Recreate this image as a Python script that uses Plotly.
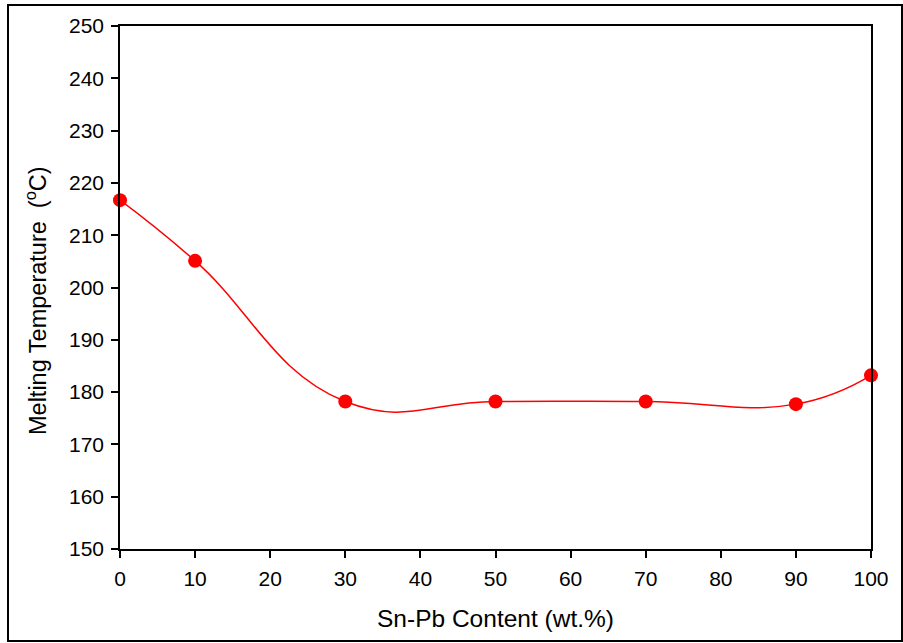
import plotly.graph_objects as go

content = [0, 10, 30, 50, 70, 90, 100]
melting_temp = [216.7, 205.1, 178.2, 178.2, 178.2, 177.7, 183.2]

W, H = 903, 643
L, R, T, B = 120, 32, 26, 94
pw, ph = W - L - R, H - T - B

def px(x):
    return (x - L) / pw

def py(y):
    return (H - B - y) / ph

fig = go.Figure()
fig.add_trace(go.Scatter(
    x=content, y=melting_temp, mode="lines+markers",
    line=dict(color="#ff0000", width=1.5, shape="spline", smoothing=1.3),
    marker=dict(color="#ff0000", size=14),
    showlegend=False, cliponaxis=False,
))

font = "Liberation Sans, Arial, sans-serif"
fig.update_layout(
    width=W, height=H,
    margin=dict(l=L, r=R, t=T, b=B),
    paper_bgcolor="white", plot_bgcolor="white",
    font=dict(family=font, color="black", size=21),
    xaxis=dict(
        range=[0, 100], tickvals=list(range(0, 101, 10)),
        ticks="outside", ticklen=7, tickwidth=1.5, tickcolor="black",
        showline=True, linecolor="black", linewidth=1.5, mirror=True,
        showgrid=False, zeroline=False, ticklabelstandoff=3,
        tickfont=dict(size=21),
        title=dict(text="Sn-Pb Content (wt.%)", font=dict(size=24.5), standoff=21),
    ),
    yaxis=dict(
        range=[150, 250], tickvals=list(range(150, 251, 10)),
        ticks="outside", ticklen=7, tickwidth=1.5, tickcolor="black",
        showline=True, linecolor="black", linewidth=1.5, mirror=True,
        showgrid=False, zeroline=False, ticklabelstandoff=3,
        tickfont=dict(size=21),
    ),
    annotations=[dict(
        text="Melting Temperature  (<sup>o</sup>C)", textangle=-90,
        xref="paper", yref="paper", x=px(36), y=py(301),
        xanchor="center", yanchor="middle", showarrow=False,
        font=dict(size=23.5, family=font, color="black"),
    )],
    shapes=[dict(
        type="rect", xref="paper", yref="paper",
        x0=px(8), x1=px(902), y0=py(641), y1=py(5),
        line=dict(color="black", width=2), fillcolor="rgba(0,0,0,0)",
    )],
)

fig.write_html("out.html")
